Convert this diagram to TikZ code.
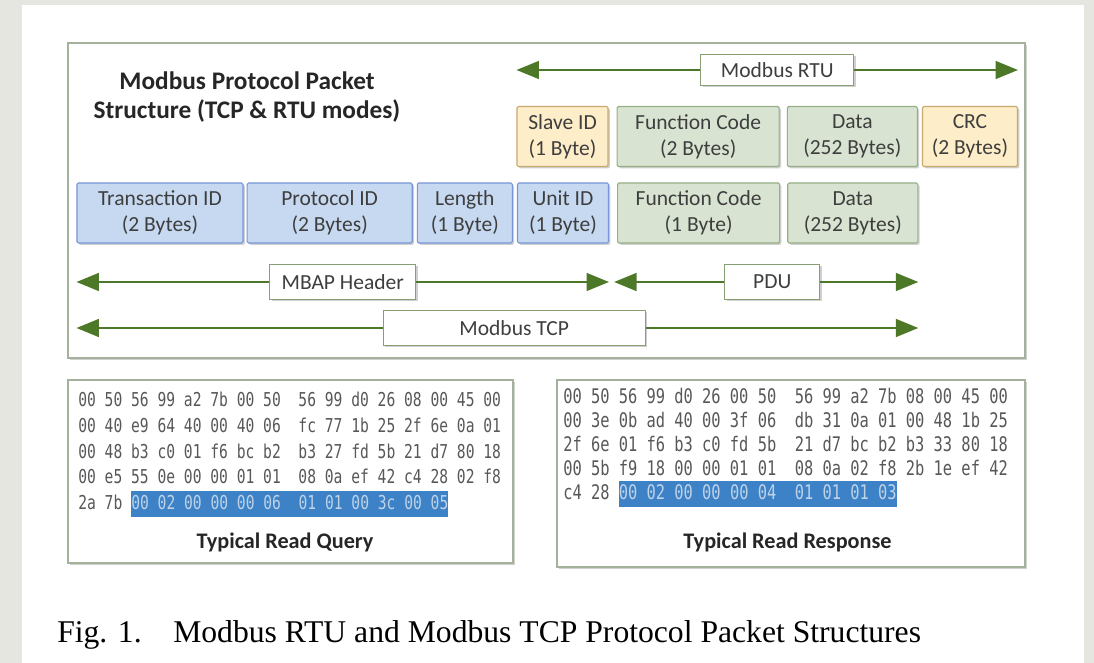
\documentclass[tikz,border=0pt]{standalone}
\usepackage{fontspec}
\setmainfont{Carlito}
\newfontfamily\capfont{Liberation Serif}
\newfontfamily\hexfont[FakeStretch=0.765]{DejaVu Sans Mono}
\usetikzlibrary{arrows.meta,positioning,shadows}

\definecolor{pagegray}{RGB}{230,230,225}
\definecolor{framegray}{RGB}{165,178,155}
\definecolor{txtgray}{RGB}{62,62,62}
\definecolor{hexgray}{RGB}{88,88,88}
\definecolor{spangreen}{RGB}{77,120,40}
\definecolor{tagline}{RGB}{135,160,115}
\definecolor{mbapfill}{RGB}{198,217,241}
\definecolor{mbapline}{RGB}{120,150,215}
\definecolor{pdufill}{RGB}{216,228,209}
\definecolor{pduline}{RGB}{150,175,135}
\definecolor{rtufill}{RGB}{253,237,200}
\definecolor{rtuline}{RGB}{200,170,110}
\definecolor{selblue}{RGB}{61,130,198}
\definecolor{seltext}{RGB}{190,210,232}

\tikzset{
  shad/.style={drop shadow={shadow xshift=1.3pt,shadow yshift=-1.3pt,opacity=.3,fill=black!60}},
  boxfont/.style={font=\fontsize{15.3}{18.4}\selectfont},
  field/.style={draw,thick,rounded corners=1pt,align=center,minimum height=1.5cm,
                inner sep=1pt,text=txtgray,boxfont,shad},
  mbap/.style={field,fill=mbapfill,draw=mbapline},
  pdu/.style={field,fill=pdufill,draw=pduline},
  rtu/.style={field,fill=rtufill,draw=rtuline},
  span/.style={draw=spangreen,line width=2pt,
               {Triangle[length=16pt,width=12.5pt]}-{Triangle[length=16pt,width=12.5pt]}},
  tag/.style={draw=tagline,fill=white,thick,minimum height=0.875cm,text=txtgray,
              boxfont,pos=.52,shad},
  panel/.style={draw=framegray,fill=white,thick,shad},
  hexline/.style={anchor=base west,inner sep=0pt,text=hexgray},
  hexsel/.style={hexline,fill=selblue,text=seltext,text height=0.45cm,text depth=0.175cm},
  pcap/.style={text=black!85,font=\bfseries\fontsize{15.8}{19}\selectfont}
}

\begin{document}
\begin{tikzpicture}[x=0.025cm,y=-0.025cm]
  \useasboundingbox (0,0) rectangle (1094,663);
  \fill[pagegray] (0,0) rectangle (1094,663);
  \fill[white] (22,5) rectangle (1084,663);

  % packet structure frame
  \draw[panel] (68,43) rectangle (1025,358);
  \node[align=center,text=black!85,font=\bfseries\fontsize{18}{20.5}\selectfont]
       (title) at (247,97) {Modbus Protocol Packet\\Structure (TCP \& RTU modes)};

  % RTU frame
  \node[rtu,minimum width=2.275cm] (slave) at (562.5,136.5) {Slave ID\\(1 Byte)};
  \node[pdu,minimum width=4.05cm,right=0.2cm of slave] (rfunc) {Function Code\\(2 Bytes)};
  \node[pdu,minimum width=3.25cm,right=0.175cm of rfunc]  (rdata) {Data\\(252 Bytes)};
  \node[rtu,minimum width=2.375cm,right=0.1cm of rdata]   (crc)  {CRC\\(2 Bytes)};

  % TCP frame
  \node[mbap,minimum width=4.15cm] (trans) at (160,213) {Transaction ID\\(2 Bytes)};
  \node[mbap,minimum width=4.125cm,right=0.075cm of trans] (proto) {Protocol ID\\(2 Bytes)};
  \node[mbap,minimum width=2.375cm,right=0.1cm of proto]  (len) {Length\\(1 Byte)};
  \node[mbap,minimum width=2.275cm,right=0.1cm of len]    (unit) {Unit ID\\(1 Byte)};
  \node[pdu,minimum width=4.05cm,right=0.2cm of unit]    (tfunc) {Function Code\\(1 Byte)};
  \node[pdu,minimum width=3.25cm,right=0.175cm of tfunc] (tdata) {Data\\(252 Bytes)};

  % spans
  \draw[span] (slave.west |- 0,70) -- node[tag,minimum width=3.825cm,minimum height=0.775cm]
        (rtutag) {Modbus RTU} (crc.east |- 0,70);
  \draw[span] (trans.west |- 0,282) -- node[tag,pos=.5,minimum width=3.65cm]
        (mbaptag) {MBAP Header} (unit.east |- 0,282);
  \draw[span] ([xshift=-0.075cm]tfunc.west |- 0,282) -- node[tag,minimum width=2.375cm]
        (pdutag) {PDU} (tdata.east |- 0,282);
  \draw[span] (trans.west |- 0,328) -- node[tag,minimum width=6.55cm]
        (tcptag) {Modbus TCP} (tdata.east |- 0,328);

  % query dump
  \draw[panel] (68,380) rectangle (513,563);
  \begin{scope}[every node/.append style={font=\hexfont\fontsize{13.6}{15}\selectfont}]
    \node[hexline] (q1) at (78,406.5) {00 50 56 99 a2 7b 00 50~ 56 99 d0 26 08 00 45 00};
    \node[hexline] (q2) at (78,432)   {00 40 e9 64 40 00 40 06~ fc 77 1b 25 2f 6e 0a 01};
    \node[hexline] (q3) at (78,458)   {00 48 b3 c0 01 f6 bc b2~ b3 27 fd 5b 21 d7 80 18};
    \node[hexline] (q4) at (78,483.5) {00 e5 55 0e 00 00 01 01~ 08 0a ef 42 c4 28 02 f8};
    \node[hexline] (q5) at (78,509.5) {2a 7b};
    \node[hexsel]  (qsel) at (131,509.5) {00 02 00 00 00 06~ 01 01 00 3c 00 05};
  \end{scope}
  \node[pcap] (qcap) at (285,542) {Typical Read Query};

  % response dump
  \draw[panel] (557,380) rectangle (1025,567);
  \begin{scope}[every node/.append style={font=\hexfont\fontsize{14.3}{15}\selectfont}]
    \node[hexline] (r1) at (563,403.5) {00 50 56 99 d0 26 00 50~ 56 99 a2 7b 08 00 45 00};
    \node[hexline] (r2) at (563,427.5) {00 3e 0b ad 40 00 3f 06~ db 31 0a 01 00 48 1b 25};
    \node[hexline] (r3) at (563,451.5) {2f 6e 01 f6 b3 c0 fd 5b~ 21 d7 bc b2 b3 33 80 18};
    \node[hexline] (r4) at (563,475.5) {00 5b f9 18 00 00 01 01~ 08 0a 02 f8 2b 1e ef 42};
    \node[hexline] (r5) at (563,499.5) {c4 28};
    \node[hexsel]  (rsel) at (618.6,499.5) {00 02 00 00 00 04~ 01 01 01 03};
  \end{scope}
  \node[pcap] (rcap) at (787.5,542) {Typical Read Response};

  % figure caption
  \node[anchor=base west,inner sep=0pt,text=black,font=\capfont\fontsize{22.5}{27}\selectfont]
       (fig) at (57,642) {Fig. 1.\quad Modbus RTU and Modbus TCP Protocol Packet Structures};
\end{tikzpicture}
\end{document}
